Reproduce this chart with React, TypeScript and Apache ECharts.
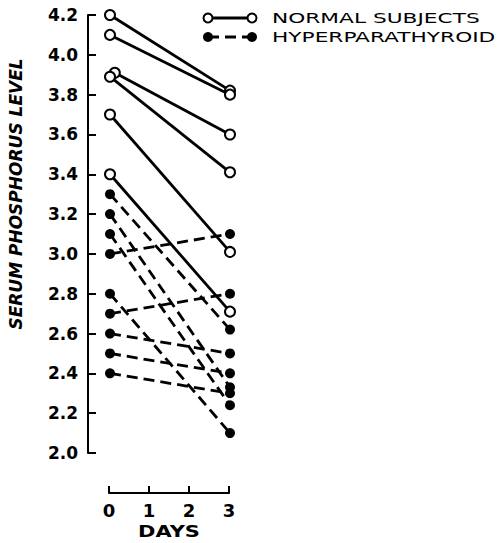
import React, { useEffect, useRef } from "react";
import * as echarts from "echarts";

const dayTicks = [0, 1, 2, 3];
const normalDay0X = [0, 0, 0.12, 0, 0, 0];
const normalDay0 = [4.2, 4.1, 3.91, 3.89, 3.7, 3.4];
const normalDay3 = [3.82, 3.8, 3.6, 3.41, 3.01, 2.71];
const hyperDay0 = [3.3, 3.2, 3.1, 3.0, 2.8, 2.7, 2.6, 2.5, 2.4];
const hyperDay3 = [2.62, 2.33, 2.24, 3.1, 2.1, 2.8, 2.5, 2.4, 2.3];
const yMin = 2.0;
const yMax = 4.2;
const yStep = 0.2;
const legendLabels = ["NORMAL SUBJECTS", "HYPERPARATHYROID"];
const yTitle = "SERUM PHOSPHORUS LEVEL";
const xTitle = "DAYS";

const FONT = "DejaVu Sans";

export default function App() {
  const ref = useRef<HTMLDivElement>(null);
  useEffect(() => {
    if (!ref.current) return;
    const chart = echarts.init(ref.current, undefined, { renderer: "svg" });
    const lastDay = dayTicks[dayTicks.length - 1];
    const normalSeries = normalDay0.map((v, i) => ({
      type: "line",
      xAxisIndex: 0,
      yAxisIndex: 0,
      data: [
        [normalDay0X[i], v],
        [lastDay, normalDay3[i]],
      ],
      symbol: "circle",
      symbolSize: 10,
      clip: false,
      lineStyle: { color: "#000", width: 2.8, type: "solid" },
      itemStyle: { color: "#fff", borderColor: "#000", borderWidth: 2 },
      z: 3,
    }));
    const hyperSeries = hyperDay0.map((v, i) => ({
      type: "line",
      xAxisIndex: 0,
      yAxisIndex: 0,
      data: [
        [0, v],
        [lastDay, hyperDay3[i]],
      ],
      symbol: "circle",
      symbolSize: 10,
      clip: false,
      lineStyle: { color: "#000", width: 2.8, type: [11, 6] },
      itemStyle: { color: "#000" },
      z: 2,
    }));
    const option: any = {
      animation: false,
      backgroundColor: "#fff",
      grid: [
        { left: 88, top: 15, width: 162, height: 438 },
        { left: 109, top: 483, width: 120, height: 10 },
      ],
      xAxis: [
        { gridIndex: 0, type: "value", min: -0.55, max: 3.5, show: false },
        {
          gridIndex: 1,
          type: "value",
          min: 0,
          max: 3,
          interval: 1,
          axisLine: { show: true, onZero: false, lineStyle: { color: "#000", width: 2 } },
          axisTick: { show: true, inside: true, length: 7, lineStyle: { color: "#000", width: 2 } },
          axisLabel: { color: "#000", fontFamily: FONT, fontWeight: "bold", fontSize: 18, margin: 8 },
          splitLine: { show: false },
        },
      ],
      yAxis: [
        {
          gridIndex: 0,
          type: "value",
          min: yMin,
          max: yMax,
          interval: yStep,
          axisLine: { show: true, onZero: false, lineStyle: { color: "#000", width: 2 } },
          axisTick: { show: true, inside: true, length: 8, lineStyle: { color: "#000", width: 2 } },
          axisLabel: {
            color: "#000",
            fontFamily: FONT,
            fontWeight: "bold",
            fontSize: 17,
            margin: 10,
            formatter: (v: number) => v.toFixed(1),
          },
          splitLine: { show: false },
        },
        { gridIndex: 1, type: "value", show: false },
      ],
      graphic: [
        {
          type: "text",
          x: 16,
          y: 194,
          rotation: Math.PI / 2,
          style: {
            text: yTitle,
            fill: "#000",
            font: `italic bold 17px "${FONT}"`,
            textAlign: "center",
            textVerticalAlign: "middle",
          },
        },
        {
          type: "text",
          x: 169,
          y: 532,
          scaleX: 1.4,
          style: {
            text: xTitle,
            fill: "#000",
            font: `bold 15px "${FONT}"`,
            textAlign: "center",
            textVerticalAlign: "middle",
          },
        },
        { type: "line", shape: { x1: 208, y1: 18, x2: 252, y2: 18 }, style: { stroke: "#000", lineWidth: 2.8 } },
        { type: "circle", shape: { cx: 208, cy: 18, r: 4.5 }, style: { fill: "#fff", stroke: "#000", lineWidth: 2 } },
        { type: "circle", shape: { cx: 252, cy: 18, r: 4.5 }, style: { fill: "#fff", stroke: "#000", lineWidth: 2 } },
        {
          type: "text",
          x: 272,
          y: 18,
          scaleX: 1.55,
          style: { text: legendLabels[0], fill: "#000", font: `500 14px "${FONT}"`, textVerticalAlign: "middle" },
        },
        {
          type: "line",
          shape: { x1: 208, y1: 37, x2: 252, y2: 37 },
          style: { stroke: "#000", lineWidth: 2.8, lineDash: [11, 6] },
        },
        { type: "circle", shape: { cx: 208, cy: 37, r: 5 }, style: { fill: "#000" } },
        { type: "circle", shape: { cx: 252, cy: 37, r: 5 }, style: { fill: "#000" } },
        {
          type: "text",
          x: 272,
          y: 37,
          scaleX: 1.55,
          style: { text: legendLabels[1], fill: "#000", font: `500 14px "${FONT}"`, textVerticalAlign: "middle" },
        },
      ],
      series: [...normalSeries, ...hyperSeries],
    };
    chart.setOption(option);
    return () => chart.dispose();
  }, []);
  return <div ref={ref} style={{ position: "fixed", left: 0, top: 0, width: 499, height: 543 }} />;
}
